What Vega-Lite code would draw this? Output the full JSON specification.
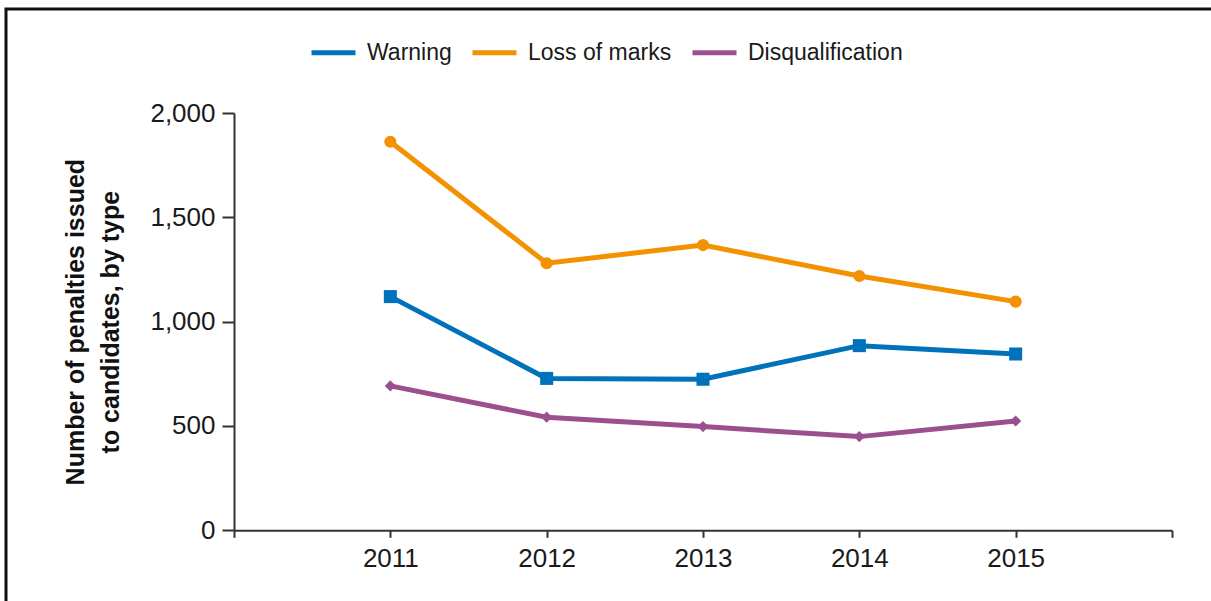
{
  "$schema": "https://vega.github.io/schema/vega-lite/v6.json",
  "width": 1208,
  "height": 595,
  "autosize": {"type": "none"},
  "padding": {"left": 6, "top": 9, "right": -3, "bottom": -3},
  "background": "white",
  "config": {
    "font": "Liberation Sans",
    "view": {"stroke": "#111111", "strokeWidth": 3},
    "axis": {
      "grid": false,
      "domainColor": "#333333",
      "domainWidth": 2,
      "tickColor": "#333333",
      "tickWidth": 2,
      "labelColor": "#1a1a1a",
      "labelFontSize": 26,
      "labelFont": "Liberation Sans"
    }
  },
  "data": {
    "values": [
      {"year": 2011, "series": "Warning", "count": 1120},
      {"year": 2012, "series": "Warning", "count": 728},
      {"year": 2013, "series": "Warning", "count": 724},
      {"year": 2014, "series": "Warning", "count": 885},
      {"year": 2015, "series": "Warning", "count": 845},
      {"year": 2011, "series": "Loss of marks", "count": 1862},
      {"year": 2012, "series": "Loss of marks", "count": 1280},
      {"year": 2013, "series": "Loss of marks", "count": 1367},
      {"year": 2014, "series": "Loss of marks", "count": 1219},
      {"year": 2015, "series": "Loss of marks", "count": 1096},
      {"year": 2011, "series": "Disqualification", "count": 692},
      {"year": 2012, "series": "Disqualification", "count": 542},
      {"year": 2013, "series": "Disqualification", "count": 497},
      {"year": 2014, "series": "Disqualification", "count": 449},
      {"year": 2015, "series": "Disqualification", "count": 524}
    ]
  },
  "encoding": {
    "x": {
      "field": "year",
      "type": "quantitative",
      "scale": {"domain": [2010, 2016], "range": [228, 1166], "nice": false, "zero": false},
      "axis": {
        "title": null,
        "offset": -73.7,
        "values": [2010, 2011, 2012, 2013, 2014, 2015, 2016],
        "labelExpr": "datum.value == 2010 || datum.value == 2016 ? '' : format(datum.value, 'd')",
        "tickSize": 7,
        "labelPadding": 8
      }
    },
    "y": {
      "field": "count",
      "type": "quantitative",
      "scale": {"domain": [0, 2000], "range": [521.3, 104], "nice": false},
      "axis": {
        "offset": -228,
        "values": [0, 500, 1000, 1500, 2000],
        "format": ",d",
        "tickSize": 12,
        "labelPadding": 7,
        "title": ["Number of penalties issued", "to candidates, by type"],
        "titleFontSize": 25,
        "titleFontWeight": "bold",
        "titleColor": "#111111",
        "titleLineHeight": 35,
        "titlePadding": 26
      }
    }
  },
  "layer": [
    {
      "mark": {"type": "line"},
      "encoding": {
        "color": {
          "field": "series",
          "type": "nominal",
          "scale": {
            "domain": ["Warning", "Loss of marks", "Disqualification"],
            "range": ["#0072bc", "#f39200", "#9b4f8f"]
          },
          "legend": {
            "orient": "none",
            "legendX": 303,
            "legendY": 19,
            "direction": "horizontal",
            "title": null,
            "symbolType": "stroke",
            "symbolSize": 1936,
            "symbolStrokeWidth": 5,
            "labelFontSize": 23,
            "labelColor": "#1a1a1a",
            "labelOffset": 9,
            "columnPadding": 10
          }
        },
        "strokeWidth": {
          "field": "series",
          "type": "nominal",
          "scale": {"domain": ["Warning", "Loss of marks", "Disqualification"], "range": [5, 5, 4]},
          "legend": null
        }
      }
    },
    {
      "mark": {"type": "point", "filled": true, "opacity": 1},
      "encoding": {
        "color": {
          "field": "series",
          "type": "nominal",
          "legend": null
        },
        "shape": {
          "field": "series",
          "type": "nominal",
          "scale": {"domain": ["Warning", "Loss of marks", "Disqualification"], "range": ["square", "circle", "diamond"]},
          "legend": null
        },
        "size": {
          "field": "series",
          "type": "nominal",
          "scale": {"domain": ["Warning", "Loss of marks", "Disqualification"], "range": [170, 125, 100]},
          "legend": null
        }
      }
    }
  ],
  "resolve": {"legend": {"color": "independent"}}
}
